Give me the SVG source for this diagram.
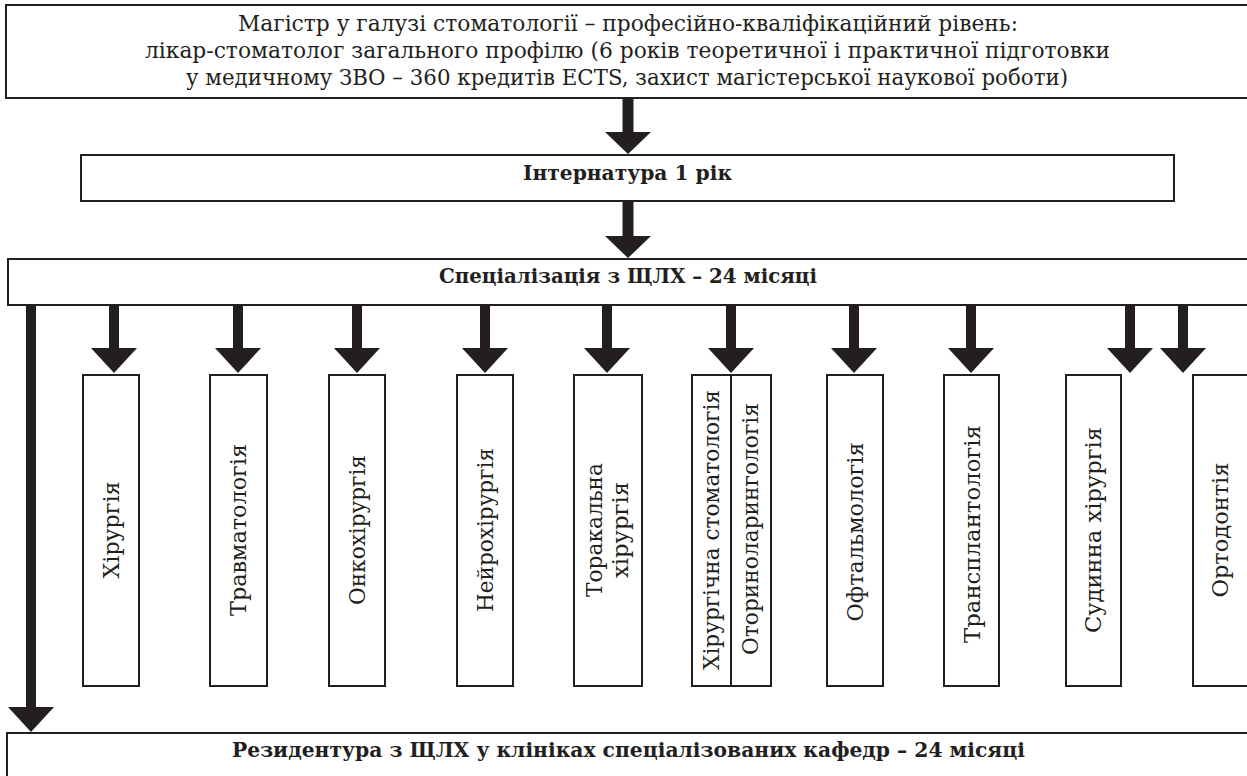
<svg xmlns="http://www.w3.org/2000/svg" width="1247" height="776" viewBox="0 0 1247 776">
<style>
.box{fill:#fff;stroke:#231f20;stroke-width:2}
.arr{fill:#231f20}
.t{font-family:"DejaVu Serif","Liberation Serif",serif;font-size:22px;fill:#231f20;text-anchor:middle}
.b{font-weight:bold;font-size:21px}
.v{font-size:22.5px}
</style>
<rect width="1247" height="776" fill="#fff"/>
<g id="connectors">
<polygon class="arr" points="622.5,98 633.5,98 633.5,132 651,132 628,154 605,132 622.5,132"/>
<polygon class="arr" points="622.5,201 633.5,201 633.5,236 651,236 628,258 605,236 622.5,236"/>
<polygon class="arr" points="26,305 36,305 36,707 54,707 31,732 8,707 26,707"/>
<g id="branches">
<polygon class="arr" points="109,305 119,305 119,348 137,348 114,373 91,348 109,348"/>
<polygon class="arr" points="233,305 243,305 243,348 261,348 238,373 215,348 233,348"/>
<polygon class="arr" points="352,305 362,305 362,348 380,348 357,373 334,348 352,348"/>
<polygon class="arr" points="480,305 490,305 490,348 508,348 485,373 462,348 480,348"/>
<polygon class="arr" points="602,305 612,305 612,348 630,348 607,373 584,348 602,348"/>
<polygon class="arr" points="726,305 736,305 736,348 754,348 731,373 708,348 726,348"/>
<polygon class="arr" points="849,305 859,305 859,348 877,348 854,373 831,348 849,348"/>
<polygon class="arr" points="966,305 976,305 976,348 994,348 971,373 948,348 966,348"/>
<polygon class="arr" points="1125,305 1135,305 1135,348 1153,348 1130,373 1107,348 1125,348"/>
<polygon class="arr" points="1178,305 1188,305 1188,348 1206,348 1183,373 1160,348 1178,348"/>
</g>
</g>
<g id="magistr">
<rect class="box" x="6" y="5" width="1250" height="93"/>
<text class="t" x="628" y="31" textLength="780" lengthAdjust="spacingAndGlyphs">Магістр у галузі стоматології – професійно-кваліфікаційний рівень:</text>
<text class="t" x="627.5" y="58" textLength="965" lengthAdjust="spacingAndGlyphs">лікар-стоматолог загального профілю (6 років теоретичної і практичної підготовки</text>
<text class="t" x="627" y="85" textLength="882" lengthAdjust="spacingAndGlyphs">у медичному ЗВО – 360 кредитів ECTS, захист магістерської наукової роботи)</text>
</g>
<g id="internatura">
<rect class="box" x="81" y="155" width="1093" height="46"/>
<text class="t b" x="627.5" y="180" textLength="209" lengthAdjust="spacingAndGlyphs">Інтернатура 1 рік</text>
</g>
<g id="specializacia">
<rect class="box" x="8" y="259" width="1250" height="46"/>
<text class="t b" x="628" y="283" textLength="378" lengthAdjust="spacingAndGlyphs">Спеціалізація з ЩЛХ – 24 місяці</text>
</g>
<g id="n1">
<rect class="box" x="83" y="375" width="56" height="311"/>
<text class="t v" transform="translate(119,530) rotate(-90)" textLength="97" lengthAdjust="spacingAndGlyphs">Хірургія</text>
</g>
<g id="n2">
<rect class="box" x="210" y="375" width="57" height="311"/>
<text class="t v" transform="translate(246,530) rotate(-90)" textLength="172" lengthAdjust="spacingAndGlyphs">Травматологія</text>
</g>
<g id="n3">
<rect class="box" x="329" y="375" width="56" height="311"/>
<text class="t v" transform="translate(365,530) rotate(-90)" textLength="150" lengthAdjust="spacingAndGlyphs">Онкохірургія</text>
</g>
<g id="n4">
<rect class="box" x="457" y="375" width="56" height="311"/>
<text class="t v" transform="translate(493,530) rotate(-90)" textLength="164" lengthAdjust="spacingAndGlyphs">Нейрохірургія</text>
</g>
<g id="n5">
<rect class="box" x="574" y="375" width="68" height="311"/>
<text class="t v" transform="translate(602,530) rotate(-90)" textLength="134" lengthAdjust="spacingAndGlyphs">Торакальна</text>
<text class="t v" transform="translate(628,530) rotate(-90)" textLength="96" lengthAdjust="spacingAndGlyphs">хірургія</text>
</g>
<g id="n6">
<rect class="box" x="692" y="375" width="39" height="311"/>
<text class="t v" transform="translate(719,530) rotate(-90)" textLength="280" lengthAdjust="spacingAndGlyphs">Хірургічна стоматологія</text>
</g>
<g id="n7">
<rect class="box" x="731" y="375" width="40" height="311"/>
<text class="t v" transform="translate(758,529) rotate(-90)" textLength="252" lengthAdjust="spacingAndGlyphs">Оториноларингологія</text>
</g>
<g id="n8">
<rect class="box" x="827" y="375" width="56" height="311"/>
<text class="t v" transform="translate(863,532) rotate(-90)" textLength="179" lengthAdjust="spacingAndGlyphs">Офтальмологія</text>
</g>
<g id="n9">
<rect class="box" x="944" y="375" width="55" height="311"/>
<text class="t v" transform="translate(980,534) rotate(-90)" textLength="218" lengthAdjust="spacingAndGlyphs">Трансплантологія</text>
</g>
<g id="n10">
<rect class="box" x="1066" y="375" width="55" height="311"/>
<text class="t v" transform="translate(1101,530) rotate(-90)" textLength="206" lengthAdjust="spacingAndGlyphs">Судинна хірургія</text>
</g>
<g id="n11">
<rect class="box" x="1193" y="375" width="70" height="311"/>
<text class="t v" transform="translate(1228,530) rotate(-90)" textLength="135" lengthAdjust="spacingAndGlyphs">Ортодонтія</text>
</g>
<g id="rezidentura">
<rect class="box" x="7" y="733" width="1250" height="60"/>
<text class="t b" x="628.5" y="757" textLength="793" lengthAdjust="spacingAndGlyphs">Резидентура з ЩЛХ у клініках спеціалізованих кафедр – 24 місяці</text>
</g>
</svg>
